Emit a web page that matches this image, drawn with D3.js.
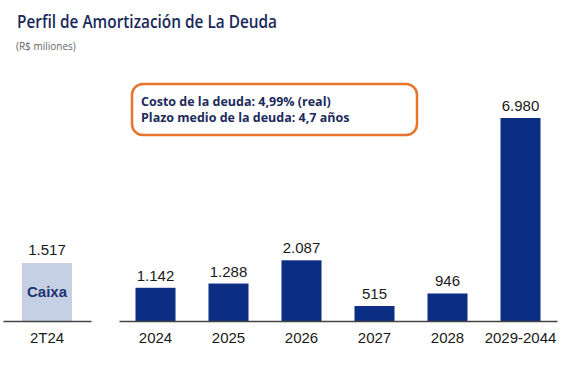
<!DOCTYPE html>
<html><head><meta charset="utf-8">
<script src="https://cdn.jsdelivr.net/npm/d3@7"></script>
<style>body{margin:0;background:#fff}svg{display:block}</style>
</head><body>
<script>
const categories = ["2024","2025","2026","2027","2028","2029-2044"];
const values = [1142,1288,2087,515,946,6980];
const valueLabels = ["1.142","1.288","2.087","515","946","6.980"];
const cashCategory = ["2T24"];
const cashValues = [1517];
const cashLabels = ["1.517"];
const cashName = "Caixa";
const title = "Perfil de Amortización de La Deuda";
const subtitle = "(R$ miliones)";
const noteLines = ["Costo de la deuda: 4,99% (real)","Plazo medio de la deuda: 4,7 años"];

const W=567,H=378, base=321;
const svg=d3.select("body").append("svg").attr("width",W).attr("height",H);

svg.append("text").attr("x",17).attr("y",28).text(title)
  .attr("font-family","Open Sans").attr("font-weight",600).attr("font-size",17.5).attr("fill","#1a285a")
  .attr("textLength",260).attr("lengthAdjust","spacingAndGlyphs");
svg.append("text").attr("x",16).attr("y",50).text(subtitle)
  .attr("font-family","Open Sans").attr("font-size",10).attr("fill","#666");

const font="Liberation Sans";
// main panel
const x=d3.scaleBand().domain(categories).range([119,557]).paddingInner(0.452).paddingOuter(0.226);
const y=d3.scaleLinear().domain([0,6980]).range([base,118]);
const g=svg.append("g");
g.selectAll("rect").data(values).join("rect")
  .attr("x",(d,i)=>x(categories[i])).attr("width",x.bandwidth())
  .attr("y",d=>y(d)).attr("height",d=>base-y(d)).attr("fill","#0b2d84");
g.selectAll("text.v").data(values).join("text").attr("class","v")
  .attr("x",(d,i)=>x(categories[i])+x.bandwidth()/2).attr("y",d=>y(d)-7)
  .attr("text-anchor","middle").attr("font-family",font).attr("font-size",15).attr("fill","#1a1a1a")
  .text((d,i)=>valueLabels[i]);
const xAxis=svg.append("g").attr("transform",`translate(0,${base})`)
  .call(d3.axisBottom(x).tickSize(0).tickPadding(11));
xAxis.select(".domain").attr("stroke","#444").attr("stroke-width",1.3);
xAxis.selectAll("text").attr("font-family",font).attr("font-size",15).attr("fill","#1a1a1a");

// cash panel
const xc=d3.scaleBand().domain(cashCategory).range([3,91]).paddingInner(0).paddingOuter(0.38);
const yc=d3.scaleLinear().domain([0,5310]).range([base,118]);
const gc=svg.append("g");
gc.selectAll("rect").data(cashValues).join("rect")
  .attr("x",(d,i)=>xc(cashCategory[i])).attr("width",xc.bandwidth())
  .attr("y",d=>yc(d)).attr("height",d=>base-yc(d)).attr("fill","#c6d0e4");
gc.selectAll("text.v").data(cashValues).join("text").attr("class","v")
  .attr("x",(d,i)=>xc(cashCategory[i])+xc.bandwidth()/2).attr("y",d=>yc(d)-8)
  .attr("text-anchor","middle").attr("font-family",font).attr("font-size",15).attr("fill","#1a1a1a")
  .text((d,i)=>cashLabels[i]);
gc.selectAll("text.n").data(cashValues).join("text").attr("class","n")
  .attr("x",(d,i)=>xc(cashCategory[i])+xc.bandwidth()/2).attr("y",d=>(yc(d)+base)/2+5)
  .attr("text-anchor","middle").attr("font-family",font).attr("font-weight","bold").attr("font-size",15).attr("fill","#1c3272")
  .text(cashName);
const xcAxis=svg.append("g").attr("transform",`translate(0,${base})`)
  .call(d3.axisBottom(xc).tickSize(0).tickPadding(11));
xcAxis.select(".domain").attr("stroke","#444").attr("stroke-width",1.3);
xcAxis.selectAll("text").attr("font-family",font).attr("font-size",15).attr("fill","#1a1a1a");

// note box
svg.append("rect").attr("x",132).attr("y",84).attr("width",285).attr("height",51).attr("rx",11)
  .attr("fill","#fff").attr("stroke","#e8732a").attr("stroke-width",2.5);
svg.selectAll("text.note").data(noteLines).join("text").attr("class","note")
  .attr("x",141).attr("y",(d,i)=>106+i*16).text(d=>d)
  .attr("font-family","Open Sans").attr("font-weight","bold").attr("font-size",12.5).attr("fill","#1c2a5c");
</script>
</body></html>
